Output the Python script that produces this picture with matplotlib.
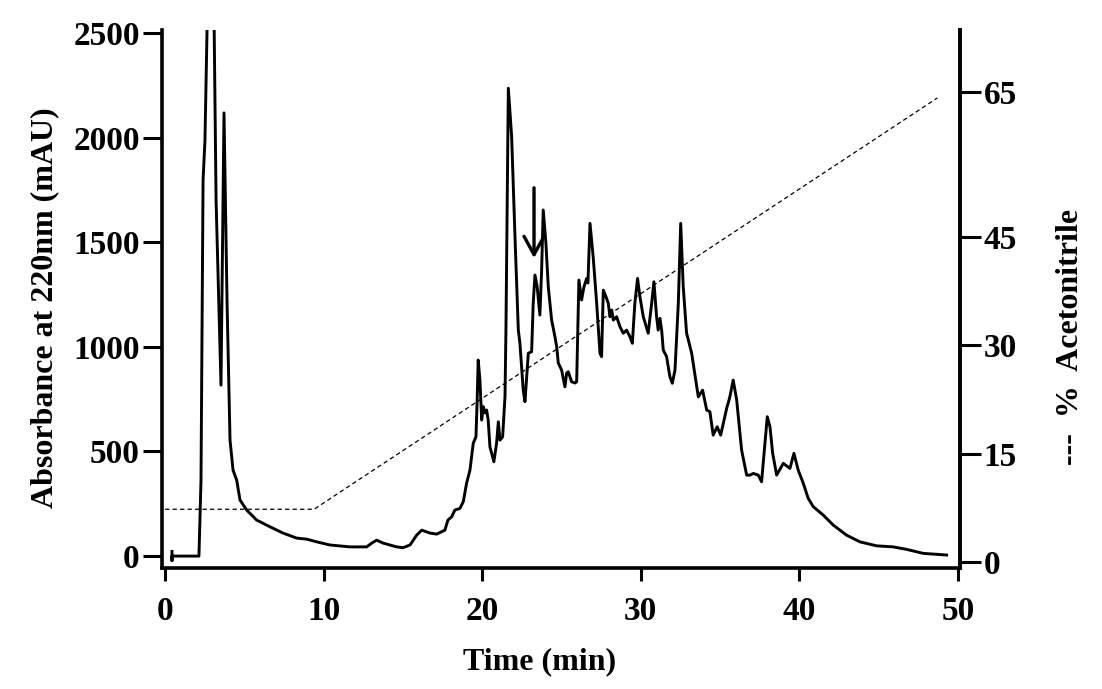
import matplotlib.pyplot as plt

# HPLC chromatogram
time_min = [0.44, 0.44, 0.44, 2.14, 2.27, 2.40, 2.52, 2.77, 2.90, 3.03, 3.22, 3.53, 3.72, 3.91,
            4.10, 4.29, 4.52, 4.73, 5.15, 5.78, 6.62, 7.44, 8.30, 8.93, 9.57, 10.40, 11.66,
            12.72, 13.03, 13.35, 13.75, 14.61, 15.01, 15.45, 15.87, 16.19, 16.71, 17.13,
            17.65, 17.84, 18.08, 18.28, 18.60, 18.81, 19.02, 19.23, 19.44, 19.61, 19.69,
            19.75, 19.86, 19.97, 20.07, 20.18, 20.28, 20.38, 20.49, 20.74, 20.91, 21.02,
            21.12, 21.29, 21.44, 21.50, 21.65, 21.86, 22.07, 22.28, 22.38, 22.59, 22.70,
            22.84, 22.91, 23.12, 23.22, 23.33, 23.47, 23.64, 23.75, 23.85, 24.02, 24.17,
            24.38, 24.59, 24.70, 24.80, 25.01, 25.22, 25.33, 25.43, 25.64, 25.85, 25.96,
            26.10, 26.27, 26.42, 26.59, 26.67, 26.80, 27.00, 27.22, 27.43, 27.53, 27.64,
            27.81, 27.95, 28.06, 28.17, 28.27, 28.48, 28.69, 28.90, 29.11, 29.32, 29.47,
            29.63, 29.80, 29.95, 30.16, 30.47, 30.69, 30.83, 31.00, 31.10, 31.21, 31.32,
            31.42, 31.63, 31.84, 31.99, 32.16, 32.37, 32.52, 32.68, 32.89, 33.21, 33.63,
            33.90, 34.16, 34.36, 34.57, 34.82, 35.04, 35.42, 35.62, 35.83, 36.05, 36.36,
            36.68, 36.89, 37.10, 37.41, 37.62, 37.83, 37.98, 38.15, 38.32, 38.57, 38.99,
            39.41, 39.66, 39.93, 40.25, 40.56, 40.88, 41.51, 42.14, 42.98, 43.82, 44.87,
            45.92, 46.77, 47.81, 49.29]
absorbance_mau = [22, -22, 0, 0, 363, 1797, 1988, 3000, 3200, 3000, 1702, 817, 2118, 1224,
                  554, 411, 363, 268, 220, 172, 140, 110, 86, 81, 68, 53, 44,
                  44, 62, 76, 62, 44, 40, 53, 100, 124, 110, 105,
                  124, 172, 188, 220, 228, 260, 349, 411, 540, 570, 761,
                  937, 841, 650, 714, 684, 698, 650, 522, 451, 540, 642,
                  554, 570, 761, 1080, 2236, 2004, 1526, 1080, 1018, 793, 738,
                  889, 969, 977, 1209, 1343, 1287, 1152, 1367, 1654, 1496, 1287,
                  1128, 1048, 1000, 923, 889, 809, 875, 881, 833, 827, 833,
                  1319, 1224, 1287, 1327, 1305, 1590, 1431, 1209, 969, 953, 1271,
                  1239, 1209, 1144, 1176, 1128, 1144, 1096, 1065, 1080, 1048, 1017,
                  1209, 1327, 1239, 1144, 1065, 1209, 1311, 1144, 1080, 1136, 1080,
                  985, 953, 857, 826, 889, 1209, 1590, 1287, 1066, 970, 761,
                  793, 698, 690, 578, 618, 578, 706, 761, 841, 746, 507,
                  387, 387, 395, 387, 355, 539, 666, 618, 491, 387, 443,
                  419, 491, 411, 348, 276, 236, 196, 148, 100, 68, 49,
                  44, 32, 13, 5]

# acetonitrile gradient (dashed line, right axis)
gradient_time = [0, 9.4, 48.7]
gradient_pct = [7.3, 7.3, 64.2]

# arrow marking the peak of interest
arrow_time = 23.27
arrow_top, arrow_tip = 1760, 1424

x_ticks = [0, 10, 20, 30, 40, 50]
y_ticks = [0, 500, 1000, 1500, 2000, 2500]
pct_ticks = [0, 15, 30, 45, 65]

plt.rcParams['font.family'] = ['Liberation Serif', 'DejaVu Serif']
plt.rcParams['font.weight'] = 'bold'

fig = plt.figure(figsize=(11.02, 6.89), dpi=100)
ax = fig.add_axes([0.147, 0.1756, 0.7241, 0.7808])

ax.plot(time_min, absorbance_mau, color='black', lw=2.1, solid_joinstyle='round')
ax.annotate('', xy=(arrow_time, arrow_tip), xytext=(arrow_time, arrow_top),
            arrowprops=dict(arrowstyle='->,head_length=0.55,head_width=0.3', color='black',
                            lw=2.4, mutation_scale=24, shrinkA=0, shrinkB=0))

ax.set_xlim(-0.19, 50.13)
ax.set_ylim(-57, 2514)
ax.set_xticks(x_ticks)
ax.set_yticks(y_ticks)
ax.spines['top'].set_visible(False)
for side in ['left', 'bottom', 'right']:
    ax.spines[side].set_linewidth(2.6)
ax.tick_params(axis='x', direction='out', length=9, width=2.2, labelsize=24, pad=11)
ax.tick_params(axis='y', direction='out', length=14, width=2.2, labelsize=24, pad=2)

ax2 = ax.twinx()
ax2.plot(gradient_time, gradient_pct, color='black', lw=0.9, linestyle=(0, (3.5, 2.5)))
ax2.set_ylim(-0.83, 73.6)
ax2.set_yticks(pct_ticks)
ax2.spines['top'].set_visible(False)
ax2.spines['right'].set_linewidth(2.6)
ax2.tick_params(axis='y', direction='out', length=15, width=2.2, labelsize=24, pad=2)

fig.text(0.041, 0.554, 'Absorbance at 220nm (mAU)', rotation=90, ha='center', va='center',
         fontsize=23, fontweight='bold')
fig.text(0.971, 0.511, '---  %  Acetonitrile', rotation=90, ha='center', va='center',
         fontsize=23, fontweight='bold')
fig.text(0.49, 0.039, 'Time (min)', ha='center', va='center', fontsize=23, fontweight='bold')

fig.savefig('out.png', dpi=100)
